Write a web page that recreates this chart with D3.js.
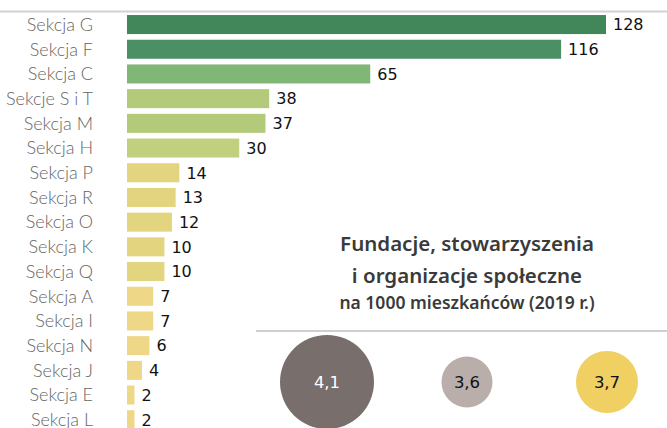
<!DOCTYPE html>
<html>
<head>
<meta charset="utf-8">
<script src="https://cdn.jsdelivr.net/npm/d3@7"></script>
<style>
  body { margin: 0; background: #fff; }
  svg { display: block; }
  .cat { font-family: Lato, "Open Sans", sans-serif; font-weight: 300; font-size: 18px; fill: #666; }
  .val { font-family: "DejaVu Sans", sans-serif; font-size: 16px; fill: #111; }
  .ttl { font-family: "Noto Sans", sans-serif; font-weight: 600; fill: #3a3a3a; }
  .bub { font-family: "DejaVu Sans", sans-serif; font-size: 16.5px; }
</style>
</head>
<body>
<svg id="chart" width="667" height="428"></svg>
<script>
"use strict"
// Sections by count, left panel
var sekcje = ["Sekcja G","Sekcja F","Sekcja C","Sekcje S i T","Sekcja M","Sekcja H","Sekcja P",
              "Sekcja R","Sekcja O","Sekcja K","Sekcja Q","Sekcja A","Sekcja I","Sekcja N",
              "Sekcja J","Sekcja E","Sekcja L"],
    liczby = [128,116,65,38,37,30,14,13,12,10,10,7,7,6,4,2,2],
    // bubbles: organisations per 1000 inhabitants (2019)
    bubbleValues = [4.1, 3.6, 3.7],
    titleLines = ["Fundacje, stowarzyszenia", "i organizacje społeczne", "na 1000 mieszkańców (2019 r.)"];

var svg = d3.select("svg#chart"),
    width = +svg.attr("width"),
    height = +svg.attr("height");

var x = d3.scaleLinear().domain([0, d3.max(liczby)]).range([127, 606]),
    y = d3.scaleBand().domain(sekcje).range([12.2, 12.2 + 17 * 24.7])
          .paddingInner(0.23).paddingOuter(0.115),
    color = d3.scaleThreshold()          // stepped green-yellow palette
      .domain([8, 20, 33, 50, 100, 120])
      .range(["#eed786", "#e3d580", "#c0d07e", "#b3ca7a", "#80b777", "#4b8f64", "#41875a"]);

var plPL = d3.formatLocale({decimal: ",", thousands: " ", grouping: [3], currency: ["", " zł"]}),
    fmt1 = plPL.format(".1f");

// top rule
svg.append("line")
    .attr("x1", 0).attr("x2", width).attr("y1", 11.5).attr("y2", 11.5)
    .attr("stroke", "#d2d2d2").attr("stroke-width", 2);

var rows = svg.append("g").attr("class", "bars")
  .selectAll("g")
    .data(sekcje)
  .enter().append("g");

rows.append("rect")
    .attr("x", x(0))
    .attr("y", function(d) { return y(d); })
    .attr("width", function(d, i) { return x(liczby[i]) - x(0); })
    .attr("height", y.bandwidth())
    .attr("fill", function(d, i) { return color(liczby[i]); });

rows.append("text")
    .attr("class", "cat")
    .attr("x", 93)
    .attr("y", function(d) { return y(d) + y.bandwidth() / 2; })
    .attr("dy", "0.35em")
    .attr("text-anchor", "end")
    .text(function(d) { return d; });

rows.append("text")
    .attr("class", "val")
    .attr("x", function(d, i) { return x(liczby[i]) + 7; })
    .attr("y", function(d) { return y(d) + y.bandwidth() / 2; })
    .attr("dy", "0.36em")
    .text(function(d, i) { return liczby[i]; });

// Right-bottom panel: title + bubbles
var panel = svg.append("g").attr("class", "panel");

panel.selectAll("text.ttl")
    .data(titleLines)
  .enter().append("text")
    .attr("class", "ttl")
    .attr("x", 467)
    .attr("y", function(d, i) { return [251, 283, 309][i]; })
    .attr("text-anchor", "middle")
    .style("font-size", function(d, i) { return i < 2 ? "20.5px" : "17.5px"; })
    .text(function(d) { return d; });

panel.append("line")
    .attr("x1", 256).attr("x2", width).attr("y1", 331).attr("y2", 331)
    .attr("stroke", "#cfcfcf").attr("stroke-width", 2);

var bx = d3.scalePoint().domain(d3.range(bubbleValues.length)).range([327, 607]),
    r = d3.scaleRadial().domain([3.6, 4.1]).range([25.5, 47]),
    bubbleFill = d3.scaleOrdinal().domain([0, 1, 2]).range(["#786e6b", "#b9aea9", "#f0cf63"]),
    bubbleText = d3.scaleOrdinal().domain([0, 1, 2]).range(["#ffffff", "#111111", "#111111"]);

var b = panel.selectAll("g.bubble")
    .data(bubbleValues)
  .enter().append("g")
    .attr("class", "bubble")
    .attr("transform", function(d, i) { return "translate(" + bx(i) + ",382)"; });

b.append("circle")
    .attr("r", function(d) { return r(d); })
    .attr("fill", function(d, i) { return bubbleFill(i); });

b.append("text")
    .attr("class", "bub")
    .attr("text-anchor", "middle")
    .attr("dy", "0.36em")
    .attr("fill", function(d, i) { return bubbleText(i); })
    .text(function(d) { return fmt1(d); });
</script>
</body>
</html>
